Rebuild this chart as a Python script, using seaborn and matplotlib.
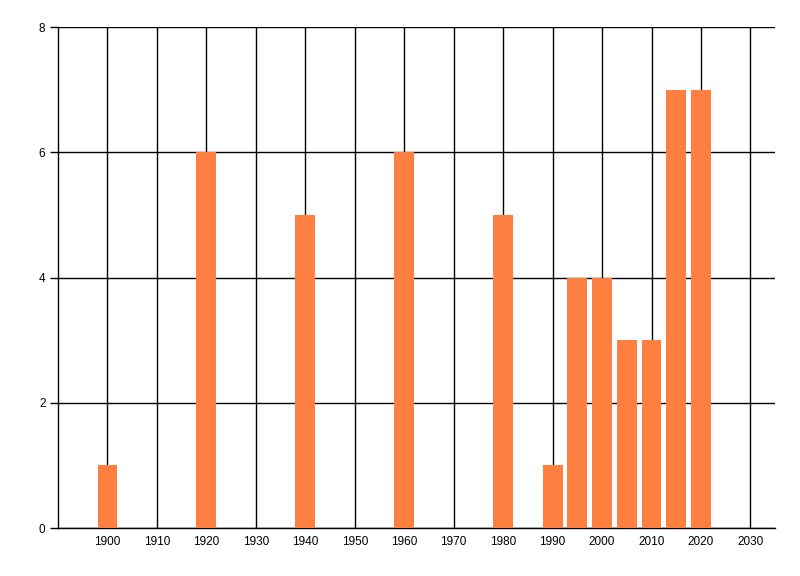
import pandas as pd
import matplotlib
matplotlib.use("Agg")
import matplotlib.pyplot as plt
import seaborn as sns

# bar data
years = [1900, 1920, 1940, 1960, 1980, 1990, 1995, 2000, 2005, 2010, 2015, 2020]
counts = [1, 6, 5, 6, 5, 1, 4, 4, 3, 3, 7, 7]
x_ticks = list(range(1900, 2031, 10))
y_ticks = [0, 2, 4, 6, 8]

sns.set_theme(style="white")
plt.rcParams['font.family'] = ['Liberation Sans', 'DejaVu Sans']
plt.rcParams.update({'text.color': 'black', 'xtick.color': 'black', 'ytick.color': 'black'})

df = pd.DataFrame({'year': years, 'count': counts})

fig = plt.figure(figsize=(8, 5.76), dpi=100)
ax = fig.add_axes([0.0725, 0.0833, 0.8965, 0.8698])

sns.barplot(data=df, x='year', y='count', native_scale=True, color='#FF7F40',
            saturation=1, width=0.8, linewidth=0, edgecolor='none', ax=ax, zorder=3)

ax.set_xlim(1890, 2035)
ax.set_ylim(0, 8)
ax.set_xticks(x_ticks)
ax.set_yticks(y_ticks)
ax.set_xticklabels([str(t) for t in x_ticks], fontsize=8.5, color='black')
ax.set_yticklabels([str(t) for t in y_ticks], fontsize=8.5, color='black')
ax.set_xlabel("")
ax.set_ylabel("")

ax.grid(True, color='black', linewidth=1, zorder=0)
ax.set_axisbelow(True)
for side in ['top', 'right']:
    ax.spines[side].set_visible(False)
for side in ['left', 'bottom']:
    ax.spines[side].set_color('black')
    ax.spines[side].set_linewidth(1)
ax.tick_params(axis='y', length=6, width=1, color='black', left=True, pad=3)
ax.tick_params(axis='x', length=0, pad=6)

fig.savefig("out.png", dpi=100)
